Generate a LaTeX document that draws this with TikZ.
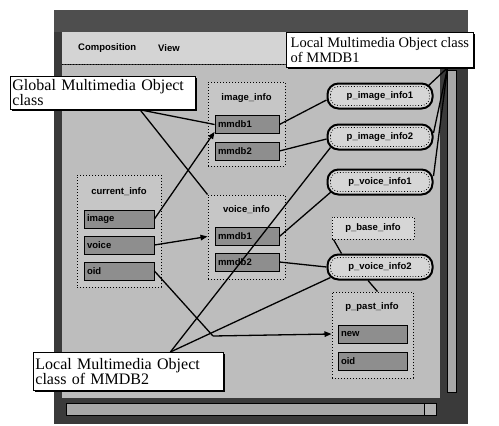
\documentclass[tikz,border=0pt]{standalone}
\usepackage{fontspec}
\setmainfont{Liberation Serif}
\newfontfamily\uifont{Liberation Sans}
\usetikzlibrary{arrows.meta,calc,shadows}
\definecolor{winborder}{HTML}{3A3A3A}
\definecolor{titlebar}{HTML}{4E4E4E}
\definecolor{menubar}{HTML}{D4D4D4}
\definecolor{clientbg}{HTML}{BDBDBD}
\definecolor{boxbg}{HTML}{C6C6C6}
\definecolor{pbg}{HTML}{D6D6D6}
\definecolor{fieldbg}{HTML}{8E8E8E}
\definecolor{channel}{HTML}{A8A8A8}
\begin{document}
\begin{tikzpicture}[x=1pt,y=-1pt,
  ui/.style={font=\uifont\bfseries\fontsize{9.5}{10}\selectfont,inner sep=1pt},
  field/.style={ui,draw=black,line width=0.8pt,fill=fieldbg,minimum height=18pt,inner xsep=3pt,align=left},
  clsbox/.style={draw=black,dotted,line width=1pt,fill=boxbg},
  pobj/.style={ui,draw=black,line width=2pt,rounded corners=11pt,fill=pbg,minimum width=105pt,minimum height=25pt},
  pinner/.style={draw=black,dotted,line width=0.8pt,rounded corners=8pt},
  lbl/.style={draw=black,line width=0.8pt,fill=white,anchor=north west,align=left,inner xsep=2pt,inner ysep=2pt,
    drop shadow={shadow xshift=2pt,shadow yshift=-2pt,opacity=1,fill=black}},
  conn/.style={draw=black,line width=1.3pt},
  arr/.style={conn,-{Triangle[length=7pt,width=5.5pt]}}
]
\useasboundingbox (0,0) rectangle (499,426);
% window
\fill[winborder] (54,10) rectangle (468,424);
\fill[titlebar] (54,10) rectangle (468,32);
\fill[menubar] (62,32) rectangle (462,64);
\draw[dotted,line width=0.8pt] (62,64) -- (462,64);
\fill[clientbg] (62,65) rectangle (440,398);
\draw[fill=channel,line width=0.6pt] (447,70) rectangle (456,392);
\draw[fill=channel,line width=0.6pt] (66,403) rectangle (436,415);
\draw[fill=gray!60,line width=0.6pt] (424,403) rectangle (436,415);
\node[ui,anchor=west] (menucomp) at (77,48) {Composition};
\node[ui,anchor=west] (menuview) at (157,48) {View};

% image_info
\node[clsbox,minimum width=77pt,minimum height=84pt] (ibox) at (246.5,124) {};
\node[ui] (ititle) at (246.5,98) {image\_info};
\node[field,text width=58pt] (imm1) at (247,124.5) {mmdb1};
\node[field,text width=58pt] (imm2) at (247,151) {mmdb2};

% current_info
\node[clsbox,minimum width=84pt,minimum height=112pt] (cbox) at (119,231) {};
\node[ui] (ctitle) at (119,192) {current\_info};
\node[field,text width=64pt] (cimage) at (119,219) {image};
\node[field,text width=64pt] (cvoice) at (119,245) {voice};
\node[field,text width=64pt] (coid) at (119,271) {oid};

% voice_info
\node[clsbox,minimum width=77pt,minimum height=84pt] (vbox) at (246.5,237) {};
\node[ui] (vtitle) at (246.5,210) {voice\_info};
\node[field,text width=58pt] (vmm1) at (247,236.5) {mmdb1};
\node[field,text width=58pt] (vmm2) at (247,262) {mmdb2};

% p objects
\node[pobj] (pi1) at (380,96) {p\_image\_info1};
\node[pobj] (pi2) at (380,137) {p\_image\_info2};
\node[pobj] (pv1) at (380,182) {p\_voice\_info1};
\node[ui,draw=black,dotted,line width=1pt,fill=pbg,minimum width=82pt,minimum height=22pt] (pbase) at (373,228) {p\_base\_info};
\node[pobj] (pv2) at (380,267) {p\_voice\_info2};
\foreach \n in {pi1,pi2,pv1,pv2}{
  \draw[pinner] ($(\n.north west)+(4,4)$) rectangle ($(\n.south east)+(-4,-4)$);
}

% p_past_info
\node[clsbox,minimum width=81pt,minimum height=86pt] (ppast) at (372.5,335) {};
\node[ui] (ptitle) at (372,307) {p\_past\_info};
\node[field,text width=63pt] (pnew) at (372.5,334) {new};
\node[field,text width=63pt] (poid) at (372.5,361) {oid};

% labels
\node[lbl,font=\fontsize{16}{15}\selectfont,text width=181pt,minimum height=33pt] (glabel) at (10,76) {Global Multimedia Object\\class};
\node[lbl,font=\fontsize{14.5}{15}\selectfont,minimum width=187pt,minimum height=35pt] (l1label) at (286,32) {Local Multimedia Object class\\of MMDB1};
\node[lbl,font=\fontsize{16}{15}\selectfont,text width=186pt,minimum height=38pt] (l2label) at (33,352) {Local Multimedia Object\\class of MMDB2};

\coordinate (ga) at ($(glabel.south west)!0.70!(glabel.south east)$);
\coordinate (l1a) at ($(l1label.south west)!0.86!(l1label.south east)$);
\coordinate (l2a) at ($(l2label.north west)!0.72!(l2label.north east)$);
\coordinate (bend) at (213,336);

% connectors
\draw[conn] (ga) -- (imm1.west);
\draw[conn] (ga) -- (vbox.north west);
\draw[arr] (cimage.east) -- ($(imm1.south west)+(0,-2)$);
\draw[arr] (cvoice.east) -- (vbox.west |- vmm1.west);
\draw[conn] (coid.east) -- (bend);
\draw[arr] (bend) -- (ppast.west |- pnew.west);
\draw[conn] (imm1.east) -- ($(pi1.west)+(0,4)$);
\draw[conn] (imm2.east) -- ($(pi2.west)+(0,2)$);
\draw[conn] (vmm1.east) -- ($(pv1.south west)+(5,-4)$);
\draw[conn] (vmm2.east) -- (pv2.west);
\draw[conn] (l2a) -- ($(pi2.south west)+(4,-3)$);
\draw[conn] (l2a) -- ($(pv2.south west)+(4,-3)$);
\draw[conn] (l1a) -- ($(pi1.north east)+(-6,4)$);
\draw[conn] (l1a) -- ($(pi2.east)+(0,-4)$);
\draw[conn] (l1a) -- ($(pv1.east)+(0,-6)$);
\draw[conn] ($(pbase.south west)+(2,0)$) -- ($(pv2.north west)+(15,0)$);
\draw[conn] ($(pv2.south)+(-12,0)$) -- ($(ppast.north)+(5,0)$);
\end{tikzpicture}
\end{document}
